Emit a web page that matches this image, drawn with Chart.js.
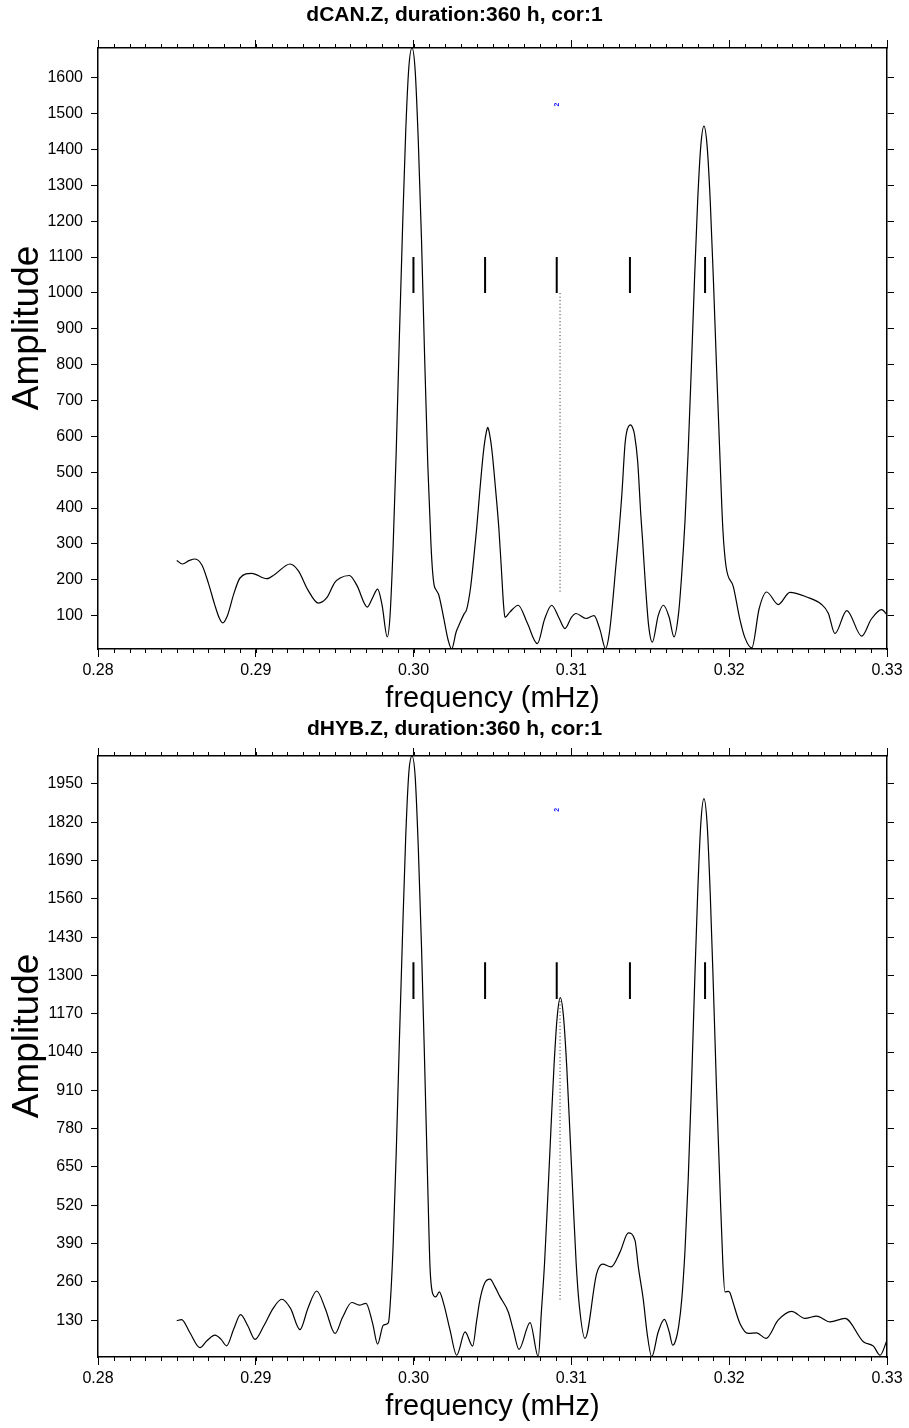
<!DOCTYPE html>
<html>
<head>
<meta charset="utf-8">
<script src="https://cdn.jsdelivr.net/npm/chart.js@4.4.0/dist/chart.umd.min.js"></script>
<style>
body{margin:0;background:#fff;}
.wrap{position:relative;width:909px;height:1428px;}
canvas{position:absolute;left:0;}
#chartCAN{top:0;}
#chartHYB{top:708px;}
</style>
</head>
<body>
<div class="wrap">
<canvas id="chartCAN" width="909" height="720"></canvas>
<canvas id="chartHYB" width="909" height="720"></canvas>
</div>
<script>
// ---------- data ----------
const xMin = 0.28, xMax = 0.33, xMajorStep = 0.01, xMinorStep = 0.001;

// dCAN.Z
const freqCAN = [0.28499,0.28535,0.2858,0.28615,0.2866,0.2870,0.2874,0.2877,0.2879,0.2882,0.2886,0.2890,0.28974,0.29069,0.2912,0.29217,0.2927,0.2933,0.29396,0.2945,0.2950,0.29534,0.29593,0.2964,0.29707,0.2974,0.29772,0.2980,0.29833,
  0.2985,0.2987,0.2989,0.2991,0.2993,0.2995,0.2997,0.2999,0.3001,0.3003,0.3005,0.3007,0.3009,0.3011,0.3012,0.3013,0.30145,0.3016,0.3019,0.3022,0.30241,
  0.3027,0.30294,0.3032,0.30336,0.3036,0.3038,0.3040,0.3042,0.3044,0.3045,0.3046,0.3047,0.3048,0.3049,0.3050,0.3052,0.3054,0.30555,0.3057,0.30579,
  0.3061,0.30663,0.3072,0.30784,0.3083,0.30875,0.3092,0.30959,0.3100,0.31029,0.31093,0.31143,0.31181,0.31217,
  0.3124,0.3126,0.3128,0.31297,0.3132,0.3134,0.3135,0.31374,0.3139,0.3140,0.3142,0.3144,0.31451,0.3147,0.3149,0.31513,
  0.3155,0.31583,0.3162,0.3165,0.3168,0.3170,0.3172,0.3174,0.3176,0.3178,0.3180,0.3182,0.3184,0.3186,0.3188,0.3190,0.3192,0.3194,0.3196,0.3198,
  0.32026,0.32068,0.3210,0.32143,0.3219,0.32237,0.32311,0.32385,0.32491,0.32586,0.32628,0.3267,0.32745,0.3284,0.3290,0.32966,0.3300];
const ampCAN = [254,244,254,258,240,190,130,92,80,100,160,205,218,203,215,244,225,172,135,150,192,205,212,185,124,150,174,130,41,
  95,290,560,880,1180,1450,1630,1683,1620,1420,1150,820,520,300,225,185,170,157,95,30,7,
  55,80,105,117,175,255,345,450,546,583,610,625,610,583,546,450,345,240,130,95,
  110,129,80,22,90,129,95,64,95,106,92,100,61,8,
  50,130,230,311,440,580,612,632,622,605,530,380,311,180,70,26,
  100,129,95,41,110,221,365,558,790,1035,1255,1410,1465,1410,1255,1035,790,558,340,237,
  181,89,38,10,120,166,131,165,152,131,107,50,114,43,90,117,103];

// dHYB.Z
const freqHYB = [0.28499,0.2853,0.2858,0.28646,0.2869,0.28741,0.2878,0.28815,0.2886,0.28904,0.2895,0.28995,0.2905,0.2911,0.29164,0.2922,0.2928,0.2933,0.29386,0.2944,0.29502,0.2955,0.29608,0.29656,0.29698,0.2974,0.29772,0.29808,0.2984,
  0.2985,0.2987,0.2989,0.2991,0.2993,0.2995,0.2997,0.2999,0.3001,0.3003,0.3005,0.3007,0.3009,0.30104,0.30121,0.3014,0.30163,0.3019,0.30231,0.30273,
  0.30326,0.30374,0.3040,0.3042,0.3045,0.30484,0.30516,0.30548,0.3060,0.30632,0.30668,0.30738,0.3079,
  0.3081,0.3083,0.3085,0.3087,0.3089,0.3091,0.3093,0.3095,0.3097,0.3099,0.3101,0.3103,0.3105,0.31086,
  0.3116,0.31198,0.31251,0.31308,0.31361,0.31403,0.31424,0.31456,0.3148,0.31509,0.3155,0.31589,0.3162,0.31642,
  0.3166,0.3168,0.3170,0.3172,0.3174,0.3176,0.3178,0.3180,0.3182,0.3184,0.3186,0.3188,0.3190,0.3192,0.3194,0.3196,0.31973,0.31995,0.32005,0.3202,
  0.32068,0.32121,0.32174,0.32233,0.3231,0.32396,0.3248,0.32554,0.32639,0.32734,0.3285,0.32914,0.32956,0.3300];
const ampHYB = [128,132,90,37,60,79,65,43,100,149,110,65,110,170,201,170,98,170,229,170,85,140,190,181,187,120,49,113,121,
  170,380,700,1080,1440,1770,1990,2045,1975,1730,1400,1000,580,311,220,209,226,187,96,11,
  90,42,130,198,255,269,243,209,158,96,31,122,6,
  160,325,545,775,995,1160,1225,1160,995,775,545,325,180,68,
  288,320,311,361,426,401,311,198,85,6,90,133,90,45,
  60,110,205,368,605,910,1255,1575,1815,1900,1815,1575,1255,910,605,320,226,228,223,198,
  119,85,87,68,130,160,136,144,124,136,57,42,11,62];

// predicted singlet positions (short bars) and the reference line
const markerFreqs = [0.29999, 0.30453, 0.30907, 0.31371, 0.31847];
const refFreq = 0.30928;
const modeFreq = 0.30907;

const panels = [
  {id:'chartCAN', title:'dCAN.Z, duration:360 h, cor:1', titlePad:{top:3, bottom:11}, freq:freqCAN, amp:ampCAN,
   yMin:7, yMax:1683, yStep:100, markLow:1000, markHigh:1100, refLow:167, refHigh:1000, modeAmp:1525},
  {id:'chartHYB', title:'dHYB.Z, duration:360 h, cor:1', titlePad:{top:9, bottom:5}, freq:freqHYB, amp:ampHYB,
   yMin:5, yMax:2045, yStep:130, markLow:1220, markHigh:1345, refLow:200, refHigh:1220, modeAmp:1862}
];

const fontFamily = '"Liberation Sans", Arial, Helvetica, sans-serif';

// minor ticks along top and bottom frame
const minorTicks = {
  id: 'minorTicks',
  afterDraw(chart) {
    const {ctx, chartArea, scales} = chart;
    const n = Math.round((xMax - xMin) / xMinorStep);
    ctx.save();
    ctx.strokeStyle = '#000';
    ctx.lineWidth = 1;
    ctx.beginPath();
    for (let i = 0; i <= n; i++) {
      const px = Math.round(scales.x.getPixelForValue(xMin + i * xMinorStep)) + 0.5;
      ctx.moveTo(px, chartArea.bottom); ctx.lineTo(px, chartArea.bottom + 4);
      ctx.moveTo(px, chartArea.top); ctx.lineTo(px, chartArea.top - 4);
    }
    ctx.stroke();
    ctx.restore();
  }
};

// tiny blue mode number
const modeLabel = {
  id: 'modeLabel',
  afterDatasetsDraw(chart, args, opts) {
    const {ctx, scales} = chart;
    const px = scales.x.getPixelForValue(opts.freq);
    const py = scales.y.getPixelForValue(opts.amp);
    ctx.save();
    ctx.translate(px, py);
    ctx.rotate(-Math.PI / 2);
    ctx.fillStyle = '#1a1aff';
    ctx.font = 'bold 7px ' + fontFamily;
    ctx.textAlign = 'center';
    ctx.textBaseline = 'middle';
    ctx.fillText(opts.text, 0, 0);
    ctx.restore();
  }
};

function keepSteps(step, lo, hi) {
  return (scale) => {
    scale.ticks = scale.ticks.filter(t => t.value % step === 0 && t.value > lo && t.value < hi);
  };
}

function makeChart(p) {
  const curve = p.freq.map((f, i) => ({x: f, y: p.amp[i]}));
  const bars = [];
  markerFreqs.forEach(f => {
    bars.push({x: f, y: p.markLow}, {x: f, y: p.markHigh}, {x: f, y: null});
  });
  const refLine = [{x: refFreq, y: p.refLow}, {x: refFreq, y: p.refHigh}];

  const tickFont = {family: fontFamily, size: 16};
  const frame = {display: true, color: '#000', width: 1.5};
  const noGrid = len => ({drawOnChartArea: false, drawTicks: true, tickLength: len, tickColor: '#000', tickWidth: 1});

  new Chart(document.getElementById(p.id), {
    type: 'line',
    data: {
      datasets: [
        {data: curve, borderColor: '#000', borderWidth: 1.2, pointRadius: 0, cubicInterpolationMode: 'monotone', fill: false},
        {data: bars, borderColor: '#000', borderWidth: 2, pointRadius: 0, tension: 0, spanGaps: false},
        {data: refLine, borderColor: '#222', borderWidth: 1, borderDash: [1, 2.5], pointRadius: 0, tension: 0}
      ]
    },
    options: {
      responsive: false,
      animation: false,
      events: [],
      devicePixelRatio: 1,
      layout: {padding: 0},
      plugins: {
        legend: {display: false},
        tooltip: {enabled: false},
        title: {display: true, text: p.title, color: '#000',
                font: {family: fontFamily, size: 21, weight: 'bold', lineHeight: 24 / 21},
                padding: p.titlePad},
        modeLabel: {freq: modeFreq, amp: p.modeAmp, text: '2'}
      },
      scales: {
        x: {type: 'linear', position: 'bottom', min: xMin, max: xMax,
            ticks: {stepSize: xMajorStep, font: tickFont, color: '#000', padding: 4, maxRotation: 0, autoSkip: false,
                    callback: v => Number(v).toFixed(2)},
            grid: noGrid(8), border: frame,
            title: {display: true, text: 'frequency (mHz)', color: '#000',
                    font: {family: fontFamily, size: 29, lineHeight: 1}, padding: {top: 0, bottom: 7}},
            afterFit: s => { s.height = 71; }},
        xTop: {type: 'linear', position: 'top', min: xMin, max: xMax,
               ticks: {stepSize: xMajorStep, display: false},
               grid: noGrid(8), border: frame,
               afterFit: s => { s.height = 10; }},
        y: {type: 'linear', position: 'left', min: p.yMin, max: p.yMax,
            ticks: {stepSize: p.yStep, font: tickFont, color: '#000', padding: 8, autoSkip: false,
                    callback: v => String(v)},
            afterBuildTicks: keepSteps(p.yStep, p.yMin, p.yMax),
            grid: noGrid(7), border: frame,
            // leading spaces nudge the label above the axis centre, as in the original
            title: {display: true, text: '    Amplitude', color: '#000',
                    font: {family: fontFamily, size: 37, lineHeight: 1}, padding: {top: 9, bottom: 0}},
            afterFit: s => { s.width = 98; }},
        yRight: {type: 'linear', position: 'right', min: p.yMin, max: p.yMax,
                 ticks: {stepSize: p.yStep, display: false},
                 afterBuildTicks: keepSteps(p.yStep, p.yMin, p.yMax),
                 grid: noGrid(7), border: frame,
                 afterFit: s => { s.width = 22; }}
      }
    },
    plugins: [minorTicks, modeLabel]
  });
}

panels.forEach(makeChart);
</script>
</body>
</html>
